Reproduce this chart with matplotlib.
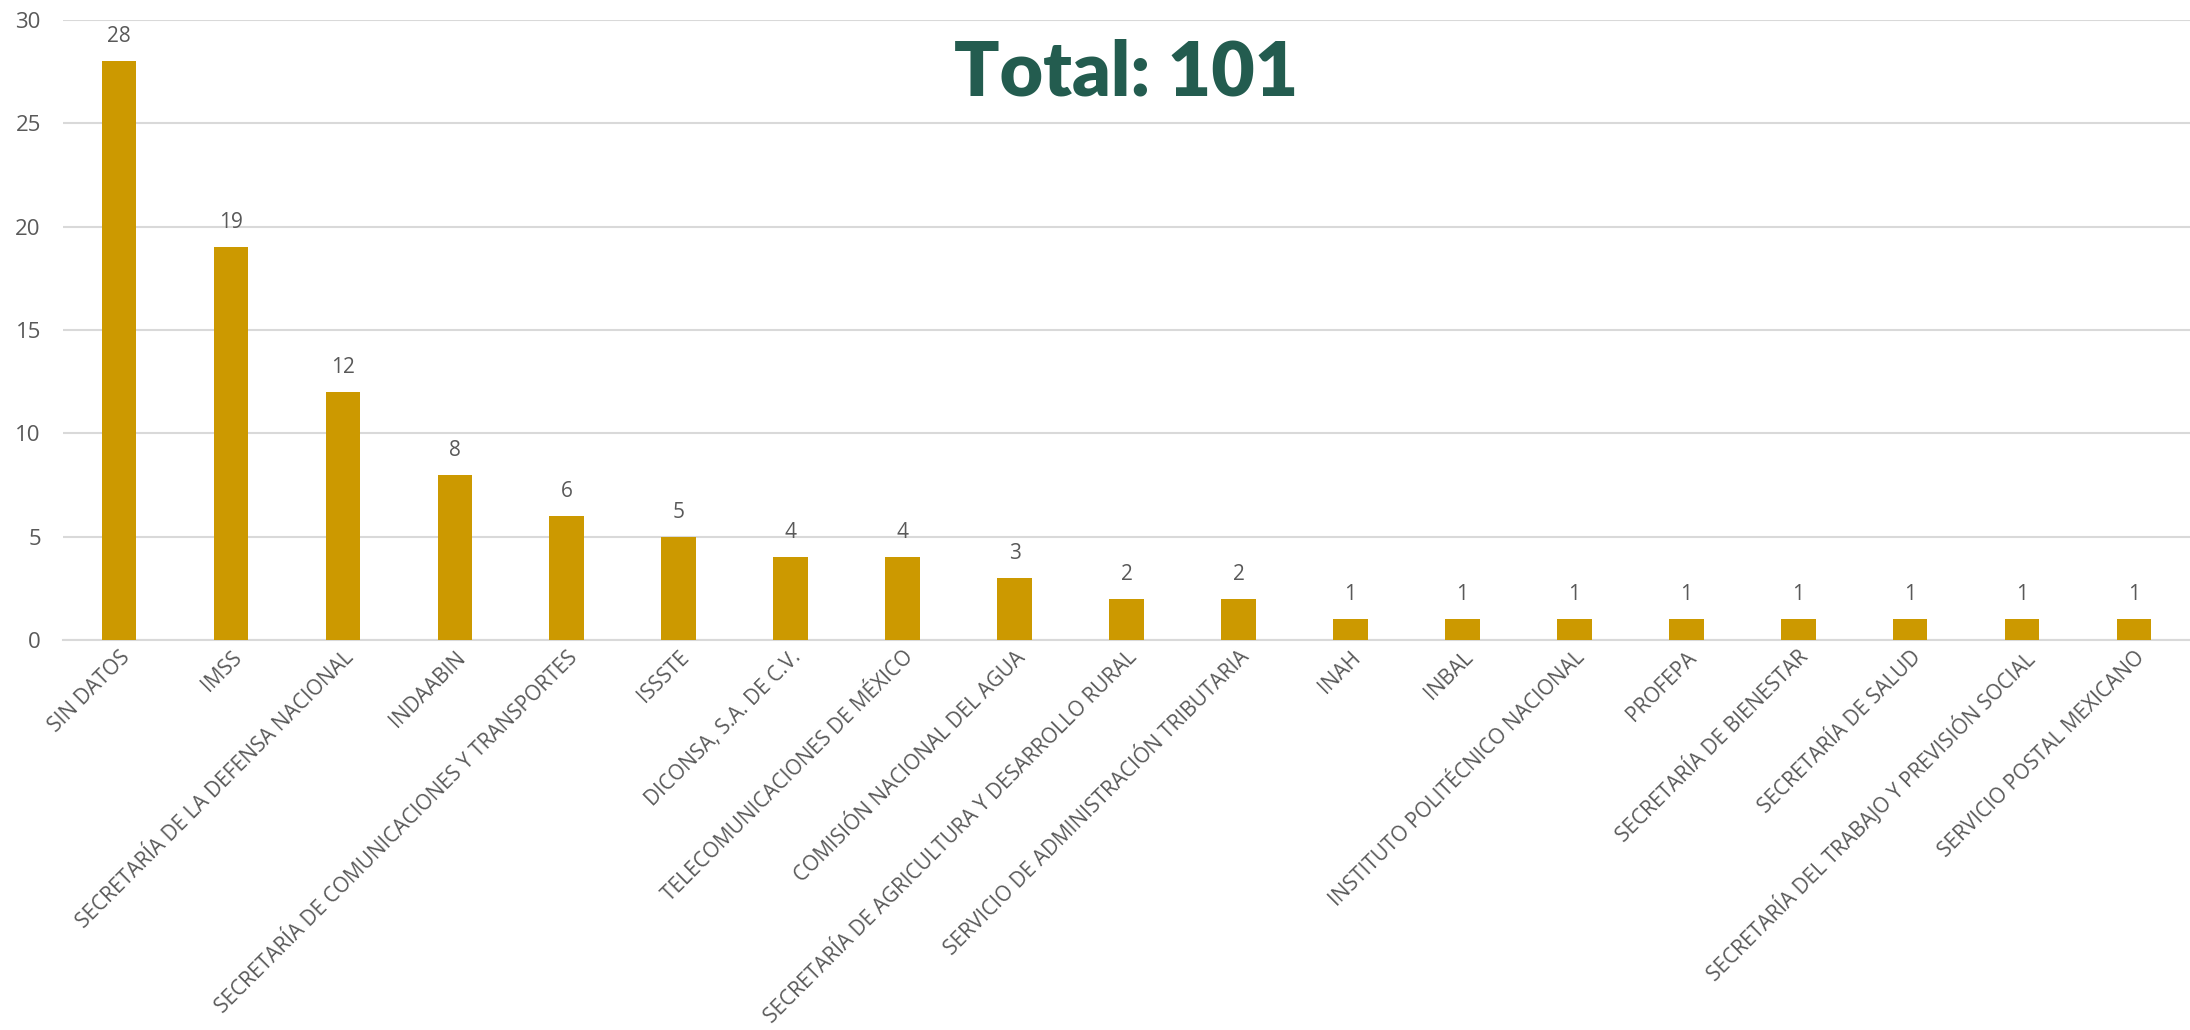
import numpy as np
import matplotlib.pyplot as plt

categorias = ['SIN DATOS', 'IMSS', 'SECRETARÍA DE LA DEFENSA NACIONAL', 'INDAABIN',
              'SECRETARÍA DE COMUNICACIONES Y TRANSPORTES', 'ISSSTE',
              'DICONSA, S.A. DE C.V.', 'TELECOMUNICACIONES DE MÉXICO',
              'COMISIÓN NACIONAL DEL AGUA', 'SECRETARÍA DE AGRICULTURA Y DESARROLLO RURAL',
              'SERVICIO DE ADMINISTRACIÓN TRIBUTARIA', 'INAH', 'INBAL',
              'INSTITUTO POLITÉCNICO NACIONAL', 'PROFEPA', 'SECRETARÍA DE BIENESTAR',
              'SECRETARÍA DE SALUD', 'SECRETARÍA DEL TRABAJO Y PREVISIÓN SOCIAL',
              'SERVICIO POSTAL MEXICANO']
valores = [28, 19, 12, 8, 6, 5, 4, 4, 3, 2, 2, 1, 1, 1, 1, 1, 1, 1, 1]
yticks = [0, 5, 10, 15, 20, 25, 30]
titulo = 'Total: 101'

plt.rcParams['font.family'] = ['Open Sans', 'DejaVu Sans']

fig = plt.figure(figsize=(21.9, 10.3), dpi=100)
ax = fig.add_axes([0.0288, 0.3786, 0.9712, 0.602])

x = np.arange(len(categorias))
ax.bar(x, valores, width=0.31, color='#CC9900', zorder=3)

for xi, v in zip(x, valores):
    ax.annotate(str(v), (xi, v), xytext=(0, 10), textcoords='offset points',
                ha='center', va='bottom', fontsize=15, color='#595959')

ax.set_xlim(-0.5, len(categorias) - 0.5)
ax.set_ylim(0, 30)
ax.set_yticks(yticks)
ax.yaxis.grid(True, color='#D9D9D9', linewidth=1.5, zorder=0)
ax.tick_params(axis='y', length=0, pad=16, labelsize=16, labelcolor='#595959')
ax.tick_params(axis='x', length=0, pad=5)
ax.set_xticks(x)
ax.set_xticklabels(categorias, rotation=45, ha='right', rotation_mode='anchor',
                   fontsize=15, color='#595959')
for s in ['top', 'right', 'left']:
    ax.spines[s].set_visible(False)
ax.spines['bottom'].set_color('#D9D9D9')
ax.spines['bottom'].set_linewidth(1.5)

fig.text(0.514, 0.929, titulo, ha='center', va='center', fontsize=54,
         fontweight='heavy', family=['Lato', 'DejaVu Sans'], color='#235C4F')

fig.savefig('out.png', dpi=100)
